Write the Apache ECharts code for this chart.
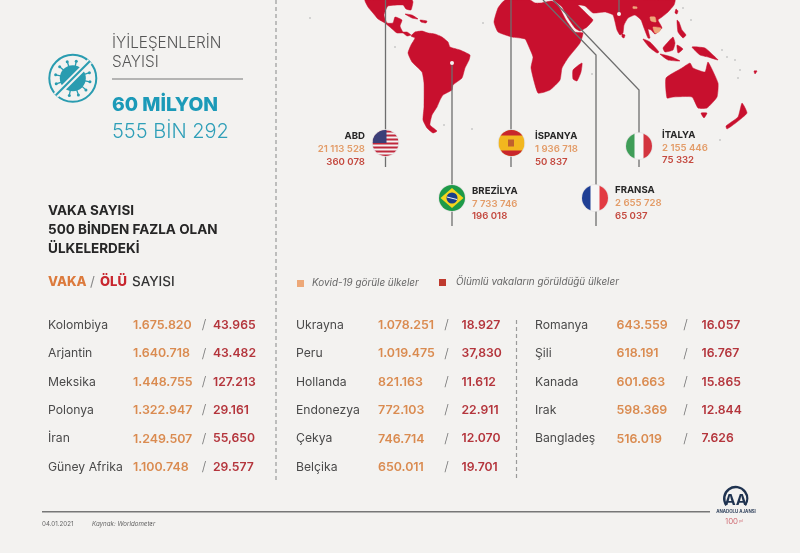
<!DOCTYPE html>
<html>
<head>
<meta charset="utf-8">
<title>Kovid-19</title>
<style>
  html, body { margin: 0; padding: 0; background: #f3f2f0; }
  #chart { width: 800px; height: 553px; }
</style>
<script src="https://cdn.jsdelivr.net/npm/echarts@6/dist/echarts.min.js"></script>
</head>
<body>
<div id="chart"></div>
<script>
// table rows, left to right
const countriesA = ['Kolombiya', 'Arjantin', 'Meksika', 'Polonya', 'İran', 'Güney Afrika']
const casesA = ['1.675.820', '1.640.718', '1.448.755', '1.322.947', '1.249.507', '1.100.748']
const deathsA = ['43.965', '43.482', '127.213', '29.161', '55,650', '29.577']

const countriesB = ['Ukrayna', 'Peru', 'Hollanda', 'Endonezya', 'Çekya', 'Belçika']
const casesB = ['1.078.251', '1.019.475', '821.163', '772.103', '746.714', '650.011']
const deathsB = ['18.927', '37,830', '11.612', '22.911', '12.070', '19.701']

const countriesC = ['Romanya', 'Şili', 'Kanada', 'Irak', 'Bangladeş']
const casesC = ['643.559', '618.191', '601.663', '598.369', '516.019']
const deathsC = ['16.057', '16.767', '15.865', '12.844', '7.626']

// top five countries, next to the flags
const topCountries = ['ABD', 'İSPANYA', 'BREZİLYA', 'FRANSA', 'İTALYA']
const topCases = ['21 113 528', '1 936 718', '7 733 746', '2 655 728', '2 155 446']
const topDeaths = ['360 078', '50 837', '196 018', '65 037', '75 332']

// map outlines, in picture pixels
const america = [[365,0],[368,7],[373,13],[378,19],[385,23],[391,28],[397,33],[403,33],[407,36],[411,35],[407,32],[403,32],[400,26],[402,20],[395,17],[393,23],[387,23],[384,15],[388,6],[403,5],[406,9],[411,10],[413,2],[412,0]]
const southAmerica = [[411,36],[415,32],[422,31],[428,33],[435,34],[442,37],[448,42],[450,47],[460,50],[470,55],[469,60],[465,68],[462,78],[453,85],[452,90],[443,95],[440,100],[437,107],[432,115],[430,125],[437,131],[433,133],[427,128],[423,120],[424,107],[424,83],[422,72],[412,62],[408,53],[411,45],[415,38]]
const africa = [[505,0],[498,8],[494,22],[498,32],[512,37],[525,39],[529,47],[533,57],[531,68],[538,93],[550,90],[560,80],[562,68],[568,58],[580,43],[583,33],[575,32],[566,20],[558,5],[552,1],[541,3],[535,3],[530,0]]
const asia = [[554,0],[562,7],[568,18],[575,28],[580,31],[587,27],[593,20],[588,15],[582,9],[578,5],[585,6],[593,13],[605,12],[613,15],[617,30],[620,35],[623,33],[624,25],[628,18],[635,15],[641,20],[644,28],[648,38],[650,38],[648,29],[651,30],[655,34],[662,28],[658,20],[662,17],[668,12],[674,5],[675,0]]
const australia = [[666,78],[682,68],[690,63],[693,68],[705,72],[708,62],[718,83],[717,97],[707,108],[698,108],[692,97],[673,97],[667,98]]
const islands = [
  [[582,63],[581,72],[577,81],[573,79],[573,70]],
  [[405,14],[412,15],[418,19],[412,18]],
  [[420,20],[427,21],[426,23],[421,22]],
  [[676,9],[678,11],[677,14],[675,13]],
  [[677,20],[679,22],[682,30],[686,35],[683,38],[678,32]],
  [[643,39],[650,42],[659,52],[657,53],[649,47]],
  [[660,54],[672,57],[680,61],[668,60]],
  [[663,48],[668,42],[673,37],[675,43],[673,50],[665,52]],
  [[677,45],[683,49],[678,53]],
  [[692,47],[705,48],[713,55],[718,60],[708,57],[700,55]],
  [[622,34],[625,35],[624,38],[622,37]],
  [[701,113],[707,113],[704,118]],
  [[742,103],[747,113],[737,122],[727,129],[726,126],[738,117]],
  [[754,71],[757,71],[755,74]]
]
const casesOnly = [
  [[650,17],[655,17],[656,22],[651,21]],
  [[653,27],[661,28],[659,32],[655,33]],
  [[633,6.5],[637,7],[637,8.5],[633,8.5]]
]
const smallIslands = [[310,18],[483,23],[395,47],[444,125],[472,129],[727,57],[735,60],[740,70],[738,78],[722,50],[691,20],[683,8],[720,140],[592,74]]

const pinLines = [
  [[385.5,0],[385.5,167]],
  [[511,0],[511,167]],
  [[452,63],[452,226]],
  [[543,0],[596,55],[596,226]],
  [[553,0],[639,90],[639,167]],
  [[619,0],[619,14]]
]
const pinDots = [[452,63],[619,14]]

const red = '#c8102e'
const peach = '#eea77a'
const line = '#6e6e6e'
const caseColor = '#da8b50'
const deathColor = '#b4353c'
const fontName = 'Inter, "Open Sans", sans-serif'

const rowY = [325, 353.7, 382, 410.4, 438.8, 467]
const tableColumns = [
  { names: countriesA, cases: casesA, deaths: deathsA, nameX: 48, caseX: 133, slashX: 204, deathX: 213 },
  { names: countriesB, cases: casesB, deaths: deathsB, nameX: 296, caseX: 378, slashX: 446.5, deathX: 461.5 },
  { names: countriesC, cases: casesC, deaths: deathsC, nameX: 535, caseX: 616.5, slashX: 685.5, deathX: 701.5 }
]

// where each top country sits: flag centre, text anchor, first text line
const topLayout = [
  { flag: [385.5, 143], textX: 365, textY: 136.5, align: 'right' },
  { flag: [511.5, 143], textX: 535, textY: 136.5, align: 'left' },
  { flag: [452, 198], textX: 472, textY: 191, align: 'left' },
  { flag: [595, 198], textX: 615, textY: 190.5, align: 'left' },
  { flag: [639, 146], textX: 662, textY: 135, align: 'left' }
]

const polygons = [america, southAmerica, africa, asia, australia].concat(islands)
  .map(p => ({ points: p, color: red }))
  .concat(casesOnly.map(p => ({ points: p, color: peach })))

const txt = (x, y, text, size, weight, color, align, style) => ({
  type: 'text',
  style: {
    x: x, y: y, text: text, fill: color,
    font: (style || 'normal') + ' ' + weight + ' ' + size + 'px ' + fontName,
    align: align || 'left', verticalAlign: 'middle'
  }
})

const rect = (x, y, w, h, fill) => ({ type: 'rect', shape: { x: x, y: y, width: w, height: h }, style: { fill: fill } })

// flags are drawn at the origin of a clipped group
const flagParts = {
  'ABD': r => {
    const parts = [rect(-r, -r, 2 * r, 2 * r, '#f4f2f2')]
    for (let i = 0; i < 7; i++) parts.push(rect(-r, -r + i * 4 + 0.5, 2 * r, 2, '#c0283c'))
    parts.push(rect(-r, -r, r + 1, r, '#3c3f78'))
    return parts
  },
  'İSPANYA': r => [
    rect(-r, -r, 2 * r, 2 * r, '#f2b71f'),
    rect(-r, -r, 2 * r, 5.5, '#c8262c'),
    rect(-r, r - 5.5, 2 * r, 5.5, '#c8262c'),
    rect(-3.5, -3.5, 6, 7, '#c0602e')
  ],
  'BREZİLYA': r => [
    rect(-r, -r, 2 * r, 2 * r, '#1d9a48'),
    { type: 'polygon', shape: { points: [[-r + 1.5, 0], [0, -r + 3], [r - 1.5, 0], [0, r - 3]] }, style: { fill: '#f5d51e' } },
    { type: 'circle', shape: { cx: 0, cy: 0, r: 5.5 }, style: { fill: '#1c3f8a' } },
    { type: 'line', shape: { x1: -5, y1: -1, x2: 5, y2: 1.5 }, style: { stroke: '#f3f3f3', lineWidth: 1 } }
  ],
  'FRANSA': r => [
    rect(-r, -r, 2 * r, 2 * r, '#f7f6f6'),
    rect(-r, -r, 8.5, 2 * r, '#1f3f94'),
    rect(r - 8.5, -r, 8.5, 2 * r, '#e23b42')
  ],
  'İTALYA': r => [
    rect(-r, -r, 2 * r, 2 * r, '#f7f6f6'),
    rect(-r, -r, 8.5, 2 * r, '#3f9d58'),
    rect(r - 8.5, -r, 8.5, 2 * r, '#d3343f')
  ]
}

// virus icon, a round sign with a struck out virus
const virusIcon = () => {
  const teal = '#2a9cb0'
  const cx = 72.8
  const cy = 78.3
  const parts = [{ type: 'circle', shape: { cx: cx, cy: cy, r: 23.5 }, style: { fill: 'none', stroke: teal, lineWidth: 2 } }]
  parts.push({ type: 'circle', shape: { cx: cx, cy: cy, r: 13 }, style: { fill: teal } })
  for (let a = 0; a < 12; a++) {
    const ang = a * Math.PI / 6 + 0.2
    const x = cx + Math.cos(ang) * 17.5
    const y = cy + Math.sin(ang) * 17.5
    parts.push({ type: 'line', shape: { x1: cx, y1: cy, x2: x, y2: y }, style: { stroke: teal, lineWidth: 1.3 } })
    parts.push({ type: 'circle', shape: { cx: x, cy: y, r: 1.5 }, style: { fill: teal } })
  }
  parts.push({ type: 'line', shape: { x1: cx - 17, y1: cy + 17, x2: cx + 17, y2: cy - 17 }, style: { stroke: '#f3f2f0', lineWidth: 6 } })
  parts.push({ type: 'line', shape: { x1: cx - 17, y1: cy + 17, x2: cx + 17, y2: cy - 17 }, style: { stroke: teal, lineWidth: 2 } })
  return parts
}

const logo = () => [
  { type: 'arc', shape: { cx: 735.7, cy: 498.5, r: 11.5, startAngle: Math.PI * 0.8, endAngle: Math.PI * 2.2 }, style: { fill: 'none', stroke: '#1f3350', lineWidth: 2.4 } },
  txt(735.7, 500.5, 'AA', 15, 700, '#1f3350', 'center'),
  txt(736, 512, 'ANADOLU AJANSI', 4.4, 700, '#33445e', 'center'),
  txt(725, 522, '100', 8, 300, '#c8505a', 'left'),
  txt(739, 521, 'yıl', 3.5, 400, '#c8505a', 'left')
]

const tableData = []
tableColumns.forEach((c, col) => c.names.forEach((n, row) => tableData.push([col, row])))

const chart = echarts.init(document.getElementById('chart'))

chart.setOption({
  animation: false,
  backgroundColor: '#f3f2f0',
  grid: { left: 0, right: 0, top: 0, bottom: 0 },
  xAxis: { type: 'value', min: 0, max: 800, show: false },
  yAxis: { type: 'value', min: 0, max: 553, inverse: true, show: false },
  graphic: [
    { type: 'group', silent: true, children: virusIcon().concat(logo()).concat([
      txt(112, 43, 'İYİLEŞENLERİN', 15.3, 300, '#555555'),
      txt(112, 62, 'SAYISI', 15.3, 300, '#555555'),
      rect(112, 78.5, 131, 1, '#777777'),
      txt(112, 105, '60 MİLYON', 19.3, 800, '#1c9ab8'),
      txt(112, 132, '555 BİN 292', 20, 300, '#2f9fb8'),
      txt(48, 211, 'VAKA SAYISI', 13.5, 700, '#262626'),
      txt(48, 230, '500 BİNDEN FAZLA OLAN', 13.5, 700, '#262626'),
      txt(48, 249, 'ÜLKELERDEKİ', 13.5, 700, '#262626'),
      txt(48, 282, 'VAKA', 13, 800, '#dc7a3c'),
      txt(90, 282, '/', 13.5, 400, '#888888'),
      txt(100, 282, 'ÖLÜ', 13, 800, '#c8262e'),
      txt(132, 282, 'SAYISI', 13.5, 500, '#333333'),
      rect(297, 280, 7, 7, '#eda878'),
      txt(312, 283, 'Kovid-19 görüle ülkeler', 9.9, 400, '#666666', 'left', 'italic'),
      rect(439, 279, 7, 7, '#bf3a2e'),
      txt(456, 282, 'Ölümlü vakaların görüldüğü ülkeler', 9.9, 400, '#666666', 'left', 'italic'),
      { type: 'line', shape: { x1: 276, y1: 0, x2: 276, y2: 483 }, style: { stroke: '#9a9a9a', lineWidth: 1.2, lineDash: [4, 3] } },
      { type: 'line', shape: { x1: 516.5, y1: 320, x2: 516.5, y2: 481 }, style: { stroke: '#9a9a9a', lineWidth: 1.2, lineDash: [4, 3] } },
      rect(42, 511, 668, 1.6, '#777777'),
      txt(42, 524, '04.01.2021', 6.2, 400, '#666666'),
      txt(92, 524, 'Kaynak: Worldometer', 6.2, 400, '#666666', 'left', 'italic')
    ]) }
  ],
  series: [
    {
      name: 'smallIslands',
      type: 'scatter',
      silent: true,
      symbolSize: 2,
      itemStyle: { color: '#c9c9c9', opacity: 1 },
      data: smallIslands
    },
    {
      name: 'land',
      type: 'custom',
      coordinateSystem: 'cartesian2d',
      silent: true,
      data: polygons.map((p, i) => [i]),
      renderItem: (params, api) => {
        const p = polygons[api.value(0)]
        return {
          type: 'polygon',
          shape: { points: p.points.map(q => api.coord(q)), smooth: 0.15 },
          style: { fill: p.color, stroke: p.color, lineWidth: 0.5 }
        }
      }
    },
    {
      name: 'pins',
      type: 'custom',
      coordinateSystem: 'cartesian2d',
      silent: true,
      data: pinLines.map((p, i) => [i]),
      renderItem: (params, api) => ({
        type: 'polyline',
        shape: { points: pinLines[api.value(0)].map(q => api.coord(q)) },
        style: { fill: 'none', stroke: line, lineWidth: 1.3 }
      })
    },
    {
      name: 'pinDots',
      type: 'scatter',
      silent: true,
      symbolSize: 4,
      itemStyle: { color: '#f6f1f1', opacity: 1 },
      data: pinDots
    },
    {
      name: 'top',
      type: 'custom',
      coordinateSystem: 'cartesian2d',
      silent: true,
      data: topCountries.map((c, i) => [i]),
      renderItem: (params, api) => {
        const i = api.value(0)
        const l = topLayout[i]
        const c = api.coord(l.flag)
        const r = 13
        const name = topCountries[i]
        return {
          type: 'group',
          children: [
            { type: 'circle', shape: { cx: c[0], cy: c[1], r: r + 0.8 }, style: { fill: '#e4e2e2' } },
            {
              type: 'group',
              x: c[0],
              y: c[1],
              clipPath: { type: 'circle', shape: { cx: 0, cy: 0, r: r } },
              children: flagParts[name](r)
            },
            txt(l.textX, l.textY, name, 9.6, 700, '#262626', l.align),
            txt(l.textX, l.textY + 13, topCases[i], 9.6, 600, '#e39c68', l.align),
            txt(l.textX, l.textY + 25.5, topDeaths[i], 9.6, 600, '#c4493f', l.align)
          ]
        }
      }
    },
    {
      name: 'table',
      type: 'custom',
      coordinateSystem: 'cartesian2d',
      silent: true,
      data: tableData,
      renderItem: (params, api) => {
        const c = tableColumns[api.value(0)]
        const row = api.value(1)
        const y = rowY[row]
        return {
          type: 'group',
          children: [
            txt(c.nameX, y, c.names[row], 12.2, 400, '#4a4a4a'),
            txt(c.caseX, y, c.cases[row], 12.4, 600, caseColor),
            txt(c.slashX, y, '/', 13, 300, '#777777', 'center'),
            txt(c.deathX, y, c.deaths[row], 12.2, 600, deathColor)
          ]
        }
      }
    }
  ]
})
</script>
</body>
</html>
